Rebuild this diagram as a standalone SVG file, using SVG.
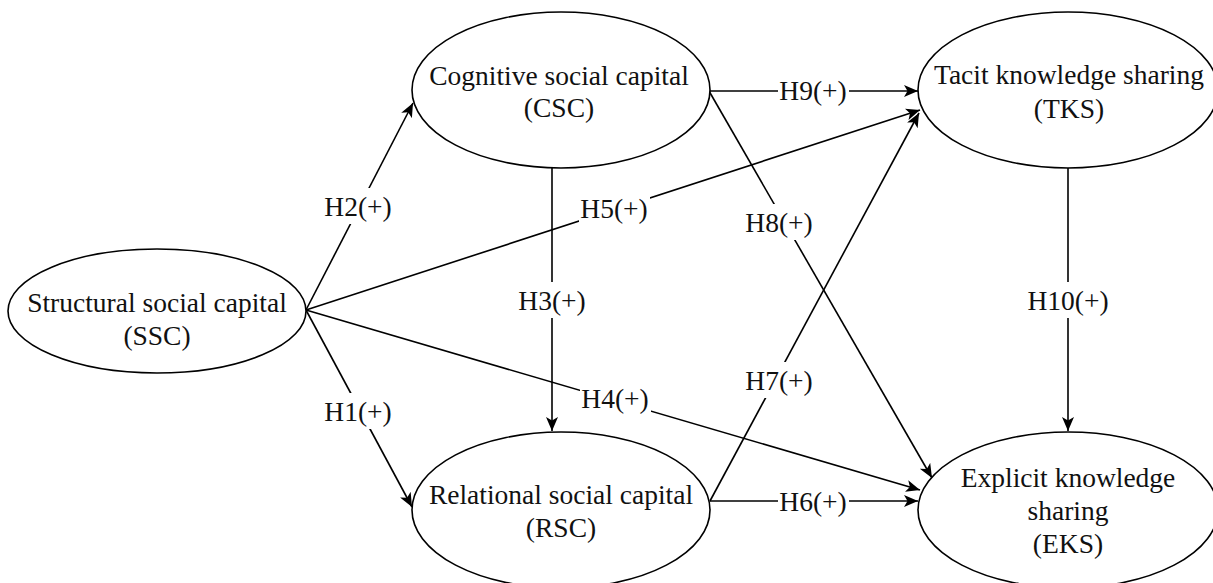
<svg xmlns="http://www.w3.org/2000/svg" width="1213" height="583" viewBox="0 0 1213 583">
<style>
.node ellipse{fill:#fff;stroke:#000;stroke-width:1.6}
text{font-family:"Liberation Serif","Times New Roman",serif;font-size:27.5px;fill:#111;text-anchor:middle}
.edge line{stroke:#000;stroke-width:1.6;marker-end:url(#arr)}
.lbl rect{fill:#fff}
</style>
<defs>
<marker id="arr" markerUnits="userSpaceOnUse" markerWidth="15" markerHeight="13" refX="14" refY="6" orient="auto">
<path d="M0,0 L14,6 L0,12 L3.5,6 z" fill="#000"/>
</marker>
</defs>
<rect width="1213" height="583" fill="#fff"/>
<g id="connectors" class="edge">
<line x1="306" y1="310" x2="413" y2="103"/>
<line x1="306" y1="310" x2="412" y2="507"/>
<line x1="306" y1="310" x2="920" y2="110"/>
<line x1="306" y1="310" x2="920" y2="490"/>
<line x1="710" y1="91" x2="918" y2="91"/>
<line x1="709" y1="91" x2="932" y2="478"/>
<line x1="552" y1="167" x2="552" y2="431"/>
<line x1="710" y1="501" x2="919" y2="113"/>
<line x1="710" y1="501" x2="918" y2="501"/>
<line x1="1068" y1="167" x2="1068" y2="431"/>
</g>
<g id="labels" class="lbl">
<rect x="323" y="188" width="71" height="36"/><text x="358" y="216">H2(+)</text>
<rect x="323" y="393" width="71" height="36"/><text x="358" y="421">H1(+)</text>
<rect x="579" y="190" width="71" height="36"/><text x="614" y="218">H5(+)</text>
<rect x="580" y="380" width="71" height="36"/><text x="615" y="408">H4(+)</text>
<rect x="778" y="72" width="71" height="36"/><text x="813" y="100">H9(+)</text>
<rect x="744" y="204" width="71" height="36"/><text x="779" y="232">H8(+)</text>
<rect x="517" y="282" width="71" height="36"/><text x="552" y="310">H3(+)</text>
<rect x="744" y="362" width="71" height="36"/><text x="779" y="390">H7(+)</text>
<rect x="778" y="483" width="71" height="36"/><text x="813" y="511">H6(+)</text>
<rect x="1027" y="282" width="82" height="36"/><text x="1068" y="310">H10(+)</text>
</g>
<g id="SSC" class="node">
<ellipse cx="157" cy="311" rx="149" ry="62"/>
<text x="157" y="312">Structural social capital</text>
<text x="157" y="345">(SSC)</text>
</g>
<g id="CSC" class="node">
<ellipse cx="561" cy="90" rx="149" ry="78"/>
<text x="559" y="85">Cognitive social capital</text>
<text x="559" y="117">(CSC)</text>
</g>
<g id="RSC" class="node">
<ellipse cx="561" cy="510" rx="149" ry="78"/>
<text x="561" y="504">Relational social capital</text>
<text x="561" y="537">(RSC)</text>
</g>
<g id="TKS" class="node">
<ellipse cx="1068" cy="90" rx="150" ry="78"/>
<text x="1069" y="84">Tacit knowledge sharing</text>
<text x="1069" y="118">(TKS)</text>
</g>
<g id="EKS" class="node">
<ellipse cx="1068" cy="510" rx="150" ry="78"/>
<text x="1068" y="487">Explicit knowledge</text>
<text x="1068" y="520">sharing</text>
<text x="1068" y="553">(EKS)</text>
</g>
</svg>
